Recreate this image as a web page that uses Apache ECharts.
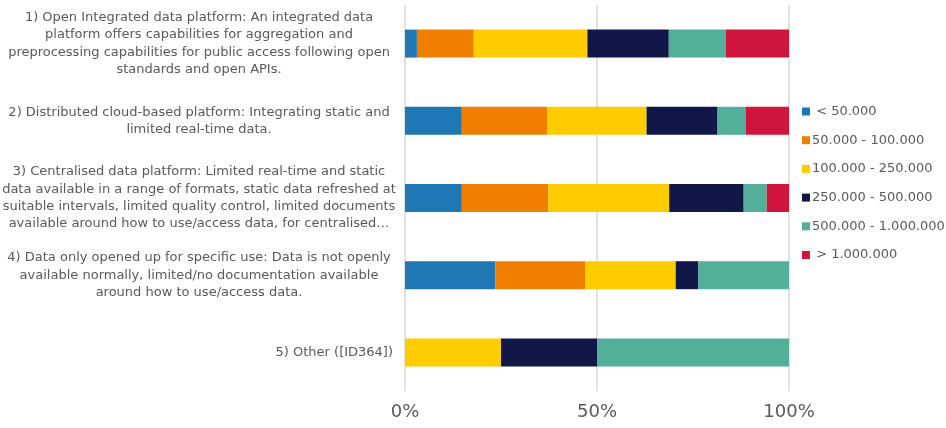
<!DOCTYPE html>
<html>
<head>
<meta charset="utf-8">
<script src="https://cdn.jsdelivr.net/npm/echarts@6/dist/echarts.min.js"></script>
<style>
  html, body { margin: 0; padding: 0; background: #ffffff; }
  #chart { width: 946px; height: 428px; }
</style>
</head>
<body>
<div id="chart"></div>
<script>
// Platform types, top to bottom (line breaks as shown on the axis)
const categories = [
  '1) Open Integrated data platform: An integrated data\nplatform offers capabilities for aggregation and\npreprocessing capabilities for public access following open\nstandards and open APIs.',
  '2) Distributed cloud-based platform: Integrating static and\nlimited real-time data.',
  '3) Centralised data platform: Limited real-time and static\ndata available in a range of formats, static data refreshed at\nsuitable intervals, limited quality control, limited documents\navailable around how to use/access data, for centralised…',
  '4) Data only opened up for specific use: Data is not openly\navailable normally, limited/no documentation available\naround how to use/access data.',
  '5) Other ([ID364])'
];

// Population bands
const bandNames = [' < 50.000', '50.000 - 100.000', '100.000 - 250.000', '250.000 - 500.000', '500.000 - 1.000.000', ' > 1.000.000'];
const bandColors = ['#1f77b4', '#f07f00', '#ffcc00', '#111847', '#52b09a', '#cf153d'];

// Share of respondents (%) per band, one value per platform type
const below50k   = [3.1, 14.8, 14.8, 23.5, 0];
const k50to100   = [14.8, 22.2, 22.5, 23.5, 0];
const k100to250  = [29.6, 25.9, 31.5, 23.5, 25];
const k250to500  = [21.2, 18.5, 19.4, 5.9, 25];
const k500to1m   = [14.8, 7.4, 6.0, 23.6, 50];
const above1m    = [16.5, 11.2, 5.8, 0, 0];

const bandValues = [below50k, k50to100, k100to250, k250to500, k500to1m, above1m];

const xTicks = [0, 50, 100];

const textColor = '#595959';
const font = 'DejaVu Sans, Verdana, sans-serif';

const chart = echarts.init(document.getElementById('chart'), null, { renderer: 'canvas' });

const series = bandNames.map((name, i) => ({
  name: name,
  type: 'bar',
  stack: 'total',
  barWidth: 28,
  itemStyle: { color: bandColors[i] },
  emphasis: { disabled: true },
  data: bandValues[i]
}));

chart.setOption({
  animation: false,
  grid: {
    left: 405, right: 157, top: 5, bottom: 37,
    containLabel: false,
    outerBoundsMode: 'none'
  },
  legend: {
    orient: 'vertical',
    left: 797,
    top: 100,
    itemWidth: 8,
    itemHeight: 8,
    itemGap: 15.7,
    icon: 'rect',
    textStyle: { color: textColor, fontSize: 13, fontFamily: font, padding: [0, 0, 0, -3] },
    data: bandNames
  },
  xAxis: {
    type: 'value',
    min: 0,
    max: 100,
    interval: 50,
    axisLine: { show: false },
    axisTick: { show: false },
    splitLine: { show: true, lineStyle: { color: '#d9d9d9', width: 1.5 } },
    axisLabel: {
      color: textColor,
      fontSize: 18,
      fontFamily: font,
      margin: 12,
      formatter: v => (xTicks.indexOf(v) >= 0 ? v + '%' : '')
    }
  },
  yAxis: {
    type: 'category',
    inverse: true,
    data: categories,
    axisLine: { show: false },
    axisTick: { show: false },
    splitLine: { show: false },
    axisLabel: {
      align: 'right',
      margin: 12,
      color: textColor,
      fontSize: 13,
      fontFamily: font,
      lineHeight: 17.3,
      formatter: function (label) {
        const lines = label.split('\n');
        if (lines.length === 1) return label;
        return lines.map(l => '{c|' + l + '}').join('\n');
      },
      rich: {
        c: {
          width: 388,
          align: 'center',
          color: textColor,
          fontSize: 13,
          fontFamily: font,
          lineHeight: 17.3
        }
      }
    }
  },
  series: series
});
</script>
</body>
</html>
